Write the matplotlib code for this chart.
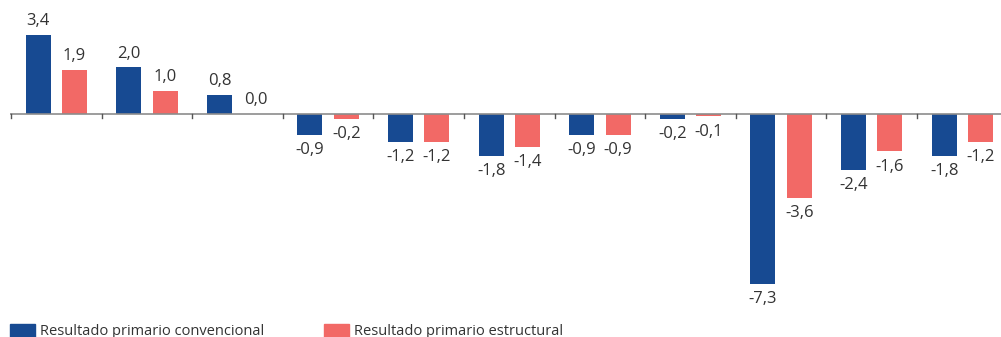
import matplotlib
matplotlib.use("Agg")
import matplotlib.pyplot as plt
from matplotlib.patches import Patch
import numpy as np

plt.rcParams['font.family'] = ['Open Sans', 'DejaVu Sans']

series_names = ["Resultado primario convencional", "Resultado primario estructural"]
convencional = [3.4, 2.0, 0.8, -0.9, -1.2, -1.8, -0.9, -0.2, -7.3, -2.4, -1.8]
estructural = [1.9, 1.0, 0.0, -0.2, -1.2, -1.4, -0.9, -0.1, -3.6, -1.6, -1.2]

blue = "#174A92"
red = "#F26966"
text_color = "#333333"

W, H, dpi = 1001, 337, 100
fig = plt.figure(figsize=(W / dpi, H / dpi), dpi=dpi)

# plot area spans the full height; limits chosen so zero sits near the top third
px_per_unit = 23.3
zero_px = 114
ax = fig.add_axes([10 / W, 0, (W - 10) / W, 1])
ax.set_ylim(-(H - zero_px) / px_per_unit, zero_px / px_per_unit)
group_px = 90.6
ax.set_xlim(-0.5 - 1 / group_px, -0.5 + (W - 11) / group_px)

x = np.arange(len(convencional))
bw = 0.276
off = 0.2
ax.bar(x - off, convencional, width=bw, color=blue, zorder=2)
ax.bar(x + off, estructural, width=bw, color=red, zorder=2)

def fmt(v):
    return f"{v:.1f}".replace(".", ",")

for xs, vals in ((x - off, convencional), (x + off, estructural)):
    for xi, v in zip(xs, vals):
        dy = 10 if v >= 0 else -11
        ax.annotate(fmt(v), (xi, v), xytext=(0, dy), textcoords="offset points",
                    ha="center", va="center", fontsize=12, color=text_color)

# zero line with small downward ticks between groups
ax.axhline(0, color="#8c8c8c", lw=1.2, zorder=3)
for b in np.arange(-0.5, len(x) + 0.5, 1.0):
    ax.plot([b, b], [0, -4 / px_per_unit], color="#555555", lw=1, zorder=3,
            clip_on=True)

for s in ax.spines.values():
    s.set_visible(False)
ax.set_xticks([])
ax.set_yticks([])

handles = [Patch(color=blue), Patch(color=red)]
fig.legend(handles, series_names, loc="lower left", bbox_to_anchor=(10 / W, -0.006),
           ncol=2, frameon=False, fontsize=10.5, handlelength=1.71, handleheight=1.0,
           handletextpad=0.34, columnspacing=4.1, borderpad=0, borderaxespad=0,
           labelcolor=text_color)

fig.savefig("out.png", dpi=dpi)
